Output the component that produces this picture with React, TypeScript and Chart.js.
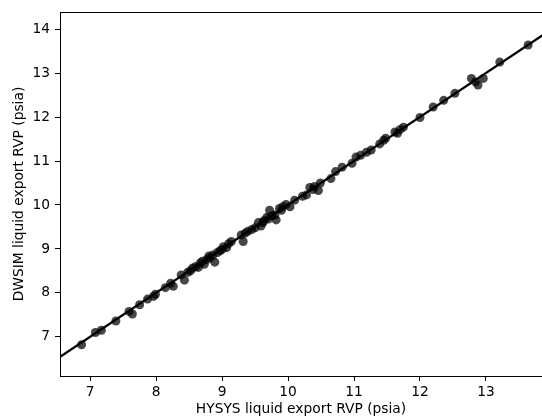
import React, { useEffect, useRef } from "react";
import { Chart, registerables } from "chart.js";

Chart.register(...registerables);

// HYSYS (x) vs DWSIM (y) liquid export RVP, psia
const hysysRvp: number[] = [
  6.87, 7.08, 7.17, 7.39, 7.59, 7.64, 7.75, 7.87, 7.96, 7.99,
  8.14, 8.22, 8.26, 8.38, 8.43, 8.48, 8.52, 8.55, 8.60, 8.64,
  8.67, 8.70, 8.73, 8.77, 8.80, 8.82, 8.86, 8.89, 8.93, 8.97,
  9.00, 9.02, 9.07, 9.10, 9.14, 9.29, 9.32, 9.35, 9.39, 9.45,
  9.50, 9.55, 9.59, 9.62, 9.63, 9.68, 9.70, 9.72, 9.76, 9.80,
  9.82, 9.87, 9.90, 9.92, 9.97, 10.03, 10.10, 10.22, 10.28, 10.33,
  10.38, 10.40, 10.46, 10.49, 10.65, 10.72, 10.82, 10.97, 11.03, 11.10,
  11.19, 11.26, 11.39, 11.45, 11.48, 11.62, 11.66, 11.70, 11.75, 12.00,
  12.20, 12.36, 12.53, 12.78, 12.84, 12.88, 12.96, 13.21, 13.64,
];
const dwsimRvp: number[] = [
  6.82, 7.10, 7.15, 7.36, 7.58, 7.52, 7.73, 7.86, 7.92, 7.97,
  8.12, 8.22, 8.15, 8.41, 8.29, 8.47, 8.50, 8.56, 8.60, 8.58,
  8.68, 8.72, 8.65, 8.76, 8.84, 8.80, 8.86, 8.70, 8.92, 8.96,
  8.99, 9.05, 9.03, 9.12, 9.17, 9.32, 9.17, 9.36, 9.40, 9.44,
  9.48, 9.60, 9.52, 9.60, 9.64, 9.72, 9.68, 9.88, 9.76, 9.77,
  9.66, 9.92, 9.88, 9.96, 10.01, 9.96, 10.11, 10.20, 10.23, 10.40,
  10.35, 10.42, 10.33, 10.50, 10.60, 10.76, 10.86, 10.95, 11.09, 11.13,
  11.20, 11.25, 11.39, 11.47, 11.52, 11.66, 11.63, 11.72, 11.77, 11.99,
  12.23, 12.38, 12.54, 12.88, 12.80, 12.73, 12.88, 13.25, 13.64,
];

// parity line y = x
const parityLine: number[] = [6.0, 15.0];

const xTicks: number[] = [7, 8, 9, 10, 11, 12, 13];
const yTicks: number[] = [7, 8, 9, 10, 11, 12, 13, 14];

const xLimits: number[] = [6.543, 13.85];
const yLimits: number[] = [6.11, 14.39];

const xTitle = "HYSYS liquid export RVP (psia)";
const yTitle = "DWSIM liquid export RVP (psia)";

const FONT = "'DejaVu Sans', sans-serif";
const FS = 13.8;

const topSpine = {
  id: "topSpine",
  afterDraw(chart: any) {
    const { ctx, chartArea } = chart;
    ctx.save();
    ctx.strokeStyle = "#000";
    ctx.lineWidth = 1;
    ctx.beginPath();
    ctx.moveTo(chartArea.left, Math.round(chartArea.top) + 0.5);
    ctx.lineTo(chartArea.right, Math.round(chartArea.top) + 0.5);
    ctx.stroke();
    ctx.restore();
  },
};

export default function App() {
  const ref = useRef<HTMLCanvasElement | null>(null);

  useEffect(() => {
    document.body.style.margin = "0";
    const canvas = ref.current;
    if (!canvas) return;
    const points = hysysRvp.map((x, i) => ({ x, y: dwsimRvp[i] }));
    const line = parityLine.map((v) => ({ x: v, y: v }));
    const chart = new Chart(canvas, {
      type: "scatter",
      data: {
        datasets: [
          {
            label: "line",
            data: line,
            showLine: true,
            borderColor: "#000",
            borderWidth: 2.3,
            pointRadius: 0,
            order: 0,
          } as any,
          {
            label: "data",
            data: points,
            backgroundColor: "rgba(0,0,0,0.72)",
            borderWidth: 0,
            pointRadius: 4.5,
            order: 1,
          },
        ],
      },
      options: {
        animation: false,
        responsive: false,
        devicePixelRatio: 1,
        layout: { autoPadding: false, padding: { top: 12, right: 0, left: 0, bottom: 0 } },
        plugins: { legend: { display: false }, tooltip: { enabled: false } },
        scales: {
          x: {
            type: "linear",
            min: xLimits[0],
            max: xLimits[1],
            afterBuildTicks: (scale: any) => {
              scale.ticks = xTicks.map((v) => ({ value: v }));
            },
            afterFit: (scale: any) => {
              scale.height = 43;
              scale.paddingLeft = 0;
              scale.paddingRight = 0;
            },
            ticks: {
              color: "#000",
              font: { family: FONT, size: FS },
              padding: 3,
              autoSkip: false,
              maxRotation: 0,
              callback: (v: any) => String(v),
            },
            grid: {
              drawOnChartArea: false,
              drawTicks: true,
              tickLength: 5,
              color: "#000",
            },
            border: { display: true, color: "#000", width: 1 },
            title: {
              display: true,
              text: xTitle,
              color: "#000",
              font: { family: FONT, size: FS },
              padding: { top: 0, bottom: 1 },
            },
          },
          y: {
            type: "linear",
            min: yLimits[0],
            max: yLimits[1],
            afterBuildTicks: (scale: any) => {
              scale.ticks = yTicks.map((v) => ({ value: v }));
            },
            afterFit: (scale: any) => {
              scale.width = 60;
              scale.paddingTop = 0;
              scale.paddingBottom = 0;
            },
            ticks: {
              color: "#000",
              font: { family: FONT, size: FS },
              padding: 5,
              autoSkip: false,
              callback: (v: any) => String(v),
            },
            grid: {
              drawOnChartArea: false,
              drawTicks: true,
              tickLength: 5,
              color: "#000",
            },
            border: { display: true, color: "#000", width: 1 },
            title: {
              display: true,
              text: yTitle,
              color: "#000",
              font: { family: FONT, size: FS },
              padding: { top: 11, bottom: 0 },
            },
          },
        },
      },
      plugins: [topSpine],
    });
    return () => chart.destroy();
  }, []);

  return (
    <div style={{ position: "absolute", left: 0, top: 0, width: 542, height: 419, background: "#fff" }}>
      <canvas ref={ref} width={542} height={419} />
    </div>
  );
}
